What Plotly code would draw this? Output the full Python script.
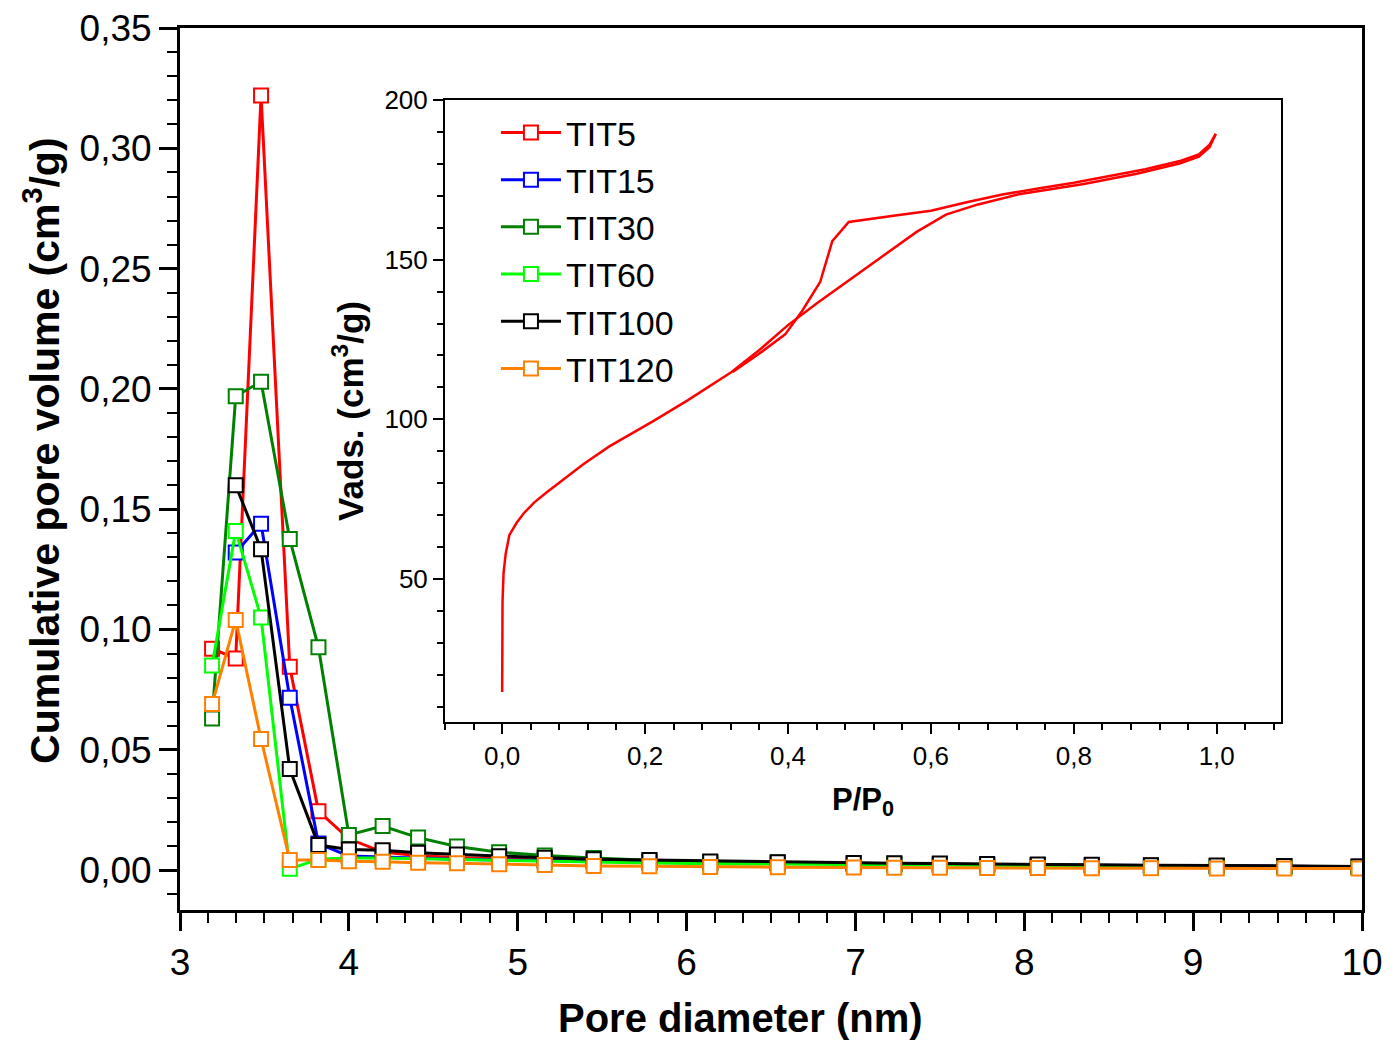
import plotly.graph_objects as go

# ---------------- main plot data ----------------
pore_diameter = [3.19, 3.33, 3.48, 3.65, 3.82, 4.00, 4.20, 4.41, 4.64, 4.89,
                 5.16, 5.45, 5.78, 6.14, 6.54, 6.99, 7.23, 7.50, 7.78, 8.08,
                 8.40, 8.75, 9.14, 9.54, 9.98]

tit5 = [0.092, 0.088, 0.322, 0.0845, 0.0245, 0.013, 0.0075, 0.0060, 0.0052, 0.0046,
        0.0041, 0.0037, 0.0034, 0.0031, 0.0029, 0.0026, 0.0025, 0.0023, 0.0022, 0.0021,
        0.0019, 0.0018, 0.0017, 0.0016, 0.0014]
tit15 = [None, 0.132, 0.144, 0.0716, 0.011, 0.0058, 0.0053, 0.0049, 0.0045, 0.0042,
         0.0039, 0.0036, 0.0033, 0.0030, 0.0028, 0.0026, 0.0024, 0.0023, 0.0022, 0.0020,
         0.0019, 0.0018, 0.0017, 0.0016, 0.0014]
tit30 = [0.063, 0.197, 0.203, 0.1376, 0.0926, 0.0146, 0.0183, 0.0135, 0.0098, 0.0074,
         0.0061, 0.0050, 0.0041, 0.0034, 0.0031, 0.0027, 0.0026, 0.0024, 0.0023, 0.0021,
         0.0020, 0.0018, 0.0017, 0.0015, 0.0013]
tit60 = [0.085, 0.141, 0.105, 0.0005, 0.0045, 0.0050, 0.0050, 0.0047, 0.0044, 0.0040,
         0.0036, 0.0032, 0.0029, 0.0026, 0.0024, 0.0022, 0.0021, 0.0020, 0.0018, 0.0017,
         0.0016, 0.0015, 0.0013, 0.0012, 0.0011]
tit100 = [None, 0.160, 0.1334, 0.042, 0.0104, 0.0086, 0.0082, 0.0072, 0.0065, 0.0057,
          0.0051, 0.0045, 0.0042, 0.0036, 0.0033, 0.0029, 0.0028, 0.0027, 0.0025, 0.0023,
          0.0022, 0.0020, 0.0019, 0.0017, 0.0015]
tit120 = [0.069, 0.104, 0.0545, 0.0042, 0.0042, 0.0037, 0.0035, 0.0030, 0.0028, 0.0024,
          0.0021, 0.0017, 0.0016, 0.0013, 0.0012, 0.0011, 0.0010, 0.0010, 0.0009, 0.0009,
          0.0008, 0.0008, 0.0007, 0.0007, 0.0006]

series_names = ["TIT5", "TIT15", "TIT30", "TIT60", "TIT100", "TIT120"]
series_values = [tit5, tit15, tit30, tit60, tit100, tit120]
series_colors = ["#FF0000", "#0000FF", "#008000", "#00FF00", "#000000", "#FF8000"]

# ---------------- inset isotherm data ----------------
p_ads = [0.0, 0.0, 0.0005, 0.002, 0.005, 0.010, 0.020, 0.030, 0.045, 0.062,
         0.085, 0.114, 0.150, 0.212, 0.260, 0.321, 0.360, 0.400, 0.440, 0.482,
         0.543, 0.580, 0.621, 0.666, 0.723, 0.814, 0.888, 0.948, 0.975, 0.990, 0.9986]
v_ads = [14.6, 30.0, 43.0, 52.0, 58.0, 63.7, 67.5, 70.5, 74.0, 77.1,
         81.0, 86.0, 91.5, 99.5, 106.0, 114.8, 121.7, 129.5, 136.3, 143.0,
         152.6, 158.7, 164.1, 167.3, 170.5, 173.7, 176.9, 180.1, 182.3, 185.2, 189.4]
p_des = [0.9986, 0.990, 0.975, 0.950, 0.900, 0.850, 0.800, 0.750, 0.700, 0.650,
         0.600, 0.550, 0.500, 0.485, 0.462, 0.445, 0.420, 0.396, 0.360, 0.3226]
v_des = [189.4, 186.0, 183.0, 181.0, 178.3, 176.2, 174.1, 172.3, 170.4, 168.0,
         165.3, 163.8, 162.3, 161.8, 155.8, 143.0, 134.0, 126.6, 120.6, 114.8]

FONT = "Arial, Liberation Sans, sans-serif"

fig = go.Figure()
for name, vals, col in zip(series_names, series_values, series_colors):
    fig.add_trace(go.Scatter(
        x=pore_diameter, y=vals, mode="lines+markers", name=name,
        line=dict(color=col, width=3),
        marker=dict(symbol="square", size=14, color="white",
                    line=dict(color=col, width=2)),
        xaxis="x", yaxis="y"))

fig.add_trace(go.Scatter(x=p_ads, y=v_ads, mode="lines", showlegend=False,
                         line=dict(color="#FF0000", width=2.5),
                         xaxis="x2", yaxis="y2"))
fig.add_trace(go.Scatter(x=p_des, y=v_des, mode="lines", showlegend=False,
                         line=dict(color="#FF0000", width=2.5),
                         xaxis="x2", yaxis="y2"))

# the page body adds an 8px margin, so the figure is 8px smaller and margins shifted
fig.update_layout(
    template="none",
    width=1388, height=1032,
    margin=dict(l=172, r=34, t=20, b=130),
    paper_bgcolor="white", plot_bgcolor="white",
    separators=",.",
    font=dict(family=FONT, color="black"),
    xaxis=dict(
        domain=[0, 1], range=[3, 10], tick0=3, dtick=1,
        ticks="outside", ticklen=18, tickwidth=3, tickcolor="black",
        linewidth=3, linecolor="black", mirror=True,
        showgrid=False, zeroline=False, automargin=False,
        tickfont=dict(size=37),
        minor=dict(tick0=3, dtick=1/6, ticks="outside", ticklen=10,
                   tickwidth=2, tickcolor="black", showgrid=False),
        anchor="y"),
    yaxis=dict(
        domain=[0, 1], range=[-0.0166, 0.35005], tick0=0, dtick=0.05,
        tickformat=".2f",
        ticks="outside", ticklen=18, tickwidth=3, tickcolor="black",
        linewidth=3, linecolor="black", mirror=True,
        showgrid=False, zeroline=False, automargin=False,
        tickfont=dict(size=37),
        minor=dict(tick0=0, dtick=0.01, ticks="outside", ticklen=10,
                   tickwidth=2, tickcolor="black", showgrid=False),
        anchor="x"),
    xaxis2=dict(
        domain=[0.2242, 0.9315], range=[-0.08, 1.09], tick0=0, dtick=0.2,
        tickformat=".1f",
        ticks="outside", ticklen=10, tickwidth=2, tickcolor="black",
        linewidth=2, linecolor="black", mirror=True,
        showgrid=False, zeroline=False, automargin=False,
        tickfont=dict(size=26),
        minor=dict(tick0=0, dtick=0.04, ticks="outside", ticklen=6,
                   tickwidth=1.5, tickcolor="black", showgrid=False),
        title=dict(text="<b>P/P<sub>0</sub></b>", font=dict(size=31),
                   standoff=18),
        anchor="y2"),
    yaxis2=dict(
        domain=[0.2132, 0.9184], range=[5.2, 200.02], tick0=0, dtick=50,
        ticks="outside", ticklen=10, tickwidth=2, tickcolor="black",
        linewidth=2, linecolor="black", mirror=True,
        showgrid=False, zeroline=False, automargin=False,
        tickfont=dict(size=26),
        minor=dict(tick0=0, dtick=10, ticks="outside", ticklen=6,
                   tickwidth=1.5, tickcolor="black", showgrid=False),
        title=dict(text="<b>Vads. (cm<sup>3</sup>/g)</b>", font=dict(size=35),
                   standoff=10),
        anchor="x2"),
    legend=dict(x=0.2673, y=0.914, xanchor="left", yanchor="top",
                bgcolor="rgba(0,0,0,0)", font=dict(size=34, family=FONT),
                tracegroupgap=0, itemwidth=60),
    showlegend=True,
    annotations=[
        dict(text="<b>Cumulative pore volume (cm<sup>3</sup>/g)</b>",
             xref="paper", yref="paper", x=-0.1168, y=0.5215,
             xanchor="center", yanchor="middle", textangle=-90,
             showarrow=False, font=dict(size=41, family=FONT)),
        dict(text="<b>Pore diameter (nm)</b>",
             xref="paper", yref="paper", x=0.4738, y=-0.1224,
             xanchor="center", yanchor="middle",
             showarrow=False, font=dict(size=40, family=FONT)),
    ],
)

fig.write_html("out.html")
